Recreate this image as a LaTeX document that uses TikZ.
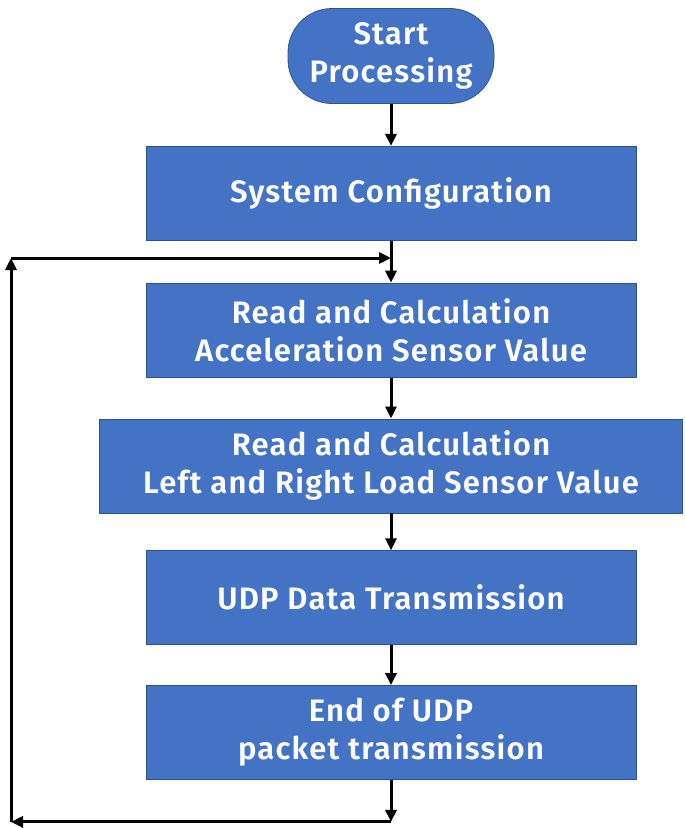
\documentclass[tikz,border=0pt]{standalone}
\usepackage{fontspec}
\setmainfont{Fira Sans}[BoldFont={Fira Sans SemiBold}, LetterSpace=4]
\usepackage{xcolor}
\usetikzlibrary{arrows.meta,positioning,calc}
\definecolor{boxblue}{HTML}{4472C4}
\definecolor{boxline}{HTML}{2F528F}
\tikzset{
	>={Triangle[length=12pt,width=11pt]},
}

\begin{document}
\begin{tikzpicture}
			[x=1pt, y=-1pt, node distance = 40pt,
				font=\fontsize{31}{38}\selectfont\bfseries,
				% STYLES
				% The process style is used to draw each processing step
				process/.style={rectangle, draw=boxline, fill=boxblue, text=white,
						line width=0.8pt, align=center, minimum width=490pt,
						minimum height=94pt},
				% The terminal style is used for the start of the flow
				terminal/.style={process, rounded corners=44pt, minimum width=206pt,
						minimum height=95pt},
				% The flow style is used for the connectors
				flow/.style={->, draw=black, line width=3pt}]

			\useasboundingbox (0,0) rectangle (685,828);

			% Draw steps
			\node [terminal] (start) at (391,56) {Start\\Processing};
			\node [process, below=42pt of start] (config) {System Configuration};
			\node [process, below=42pt of config] (accel) {Read and Calculation\\Acceleration Sensor Value};
			\node [process, below=41pt of accel, minimum width=583pt] (load) {Read and Calculation\\Left and Right Load Sensor Value};
			\node [process, below=37pt of load] (udp) {UDP Data Transmission};
			\node [process, below=40pt of udp] (done) {End of UDP\\packet transmission};

			% Loop back
			\coordinate (loopdown) at ($(done.south)+(0,42)$);
			\coordinate (looptop) at (11,258);
			\coordinate (loopleft) at (looptop |- loopdown);
			\coordinate (loopjoin) at (config.south |- looptop);

			\path[flow]
			(start) edge (config)
			(config) edge (accel)
			(accel) edge (load)
			(load) edge (udp)
			(udp) edge (done);

			\draw[flow] (done) -- (loopdown);
			\draw[flow] (loopdown) -- (loopleft);
			\draw[flow] (loopleft) -- (looptop);
			\draw[flow] (looptop) -- (loopjoin);
		\end{tikzpicture}
\end{document}
